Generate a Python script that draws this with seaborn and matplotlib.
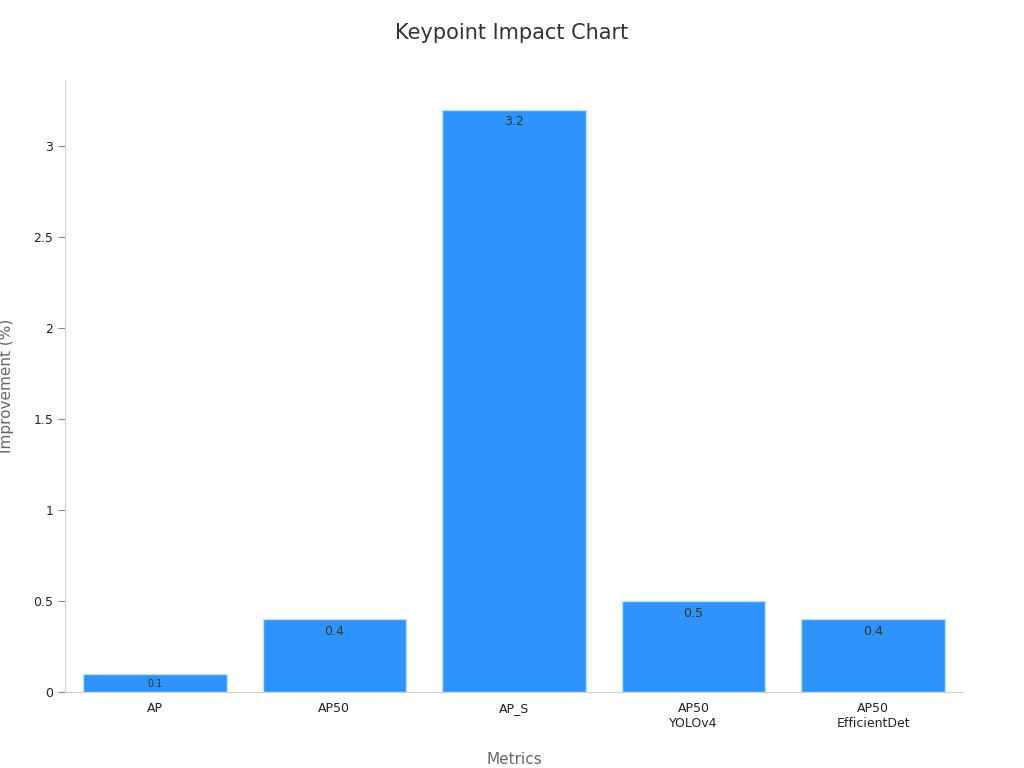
import matplotlib
matplotlib.use("Agg")
import matplotlib.pyplot as plt
import seaborn as sns
import pandas as pd

categories = ["AP", "AP50", "AP_S", "AP50\nYOLOv4", "AP50\nEfficientDet"]
values = [0.1, 0.4, 3.2, 0.5, 0.4]
yticks = [0, 0.5, 1, 1.5, 2, 2.5, 3]
ytick_labels = ["0", "0.5", "1", "1.5", "2", "2.5", "3"]

sns.set_style("white")
plt.rcParams['font.family'] = ['DejaVu Sans']
df = pd.DataFrame({"Metrics": categories, "Improvement": values})

fig = plt.figure(figsize=(10.24, 7.68), dpi=100)
ax = fig.add_axes([65/1024, 76/768, 898/1024, 612/768])
sns.barplot(data=df, x="Metrics", y="Improvement", color="#2E93FA", saturation=1,
            width=0.8, edgecolor="#BFDFFF", linewidth=1, ax=ax)
ax.set_ylim(0, 3.365)
ax.set_xlim(-0.5, 4.5)
ax.set_yticks(yticks)
ax.set_yticklabels(ytick_labels)
for i, v in enumerate(values):
    fs = 7 if v < 0.2 else 9
    ax.text(i, v - 0.03, f"{v}", ha="center", va="top", fontsize=fs, color="#333333")
for s in ["top", "right"]:
    ax.spines[s].set_visible(False)
for s in ["left", "bottom"]:
    ax.spines[s].set_color("#D0D0D0")
ax.tick_params(axis="y", left=True, length=5, color="#888888", labelsize=9, labelcolor="#222222")
ax.tick_params(axis="x", bottom=False, labelsize=9, labelcolor="#222222")
ax.set_xlabel("Metrics", fontsize=11, color="#666666", labelpad=16)
ax.set_ylabel("Improvement (%)", fontsize=11, color="#666666", labelpad=14)
fig.text(0.5, 1 - 33/768, "Keypoint Impact Chart", ha="center", va="center", fontsize=15, color="#333333")
fig.savefig("out.png", dpi=100)
